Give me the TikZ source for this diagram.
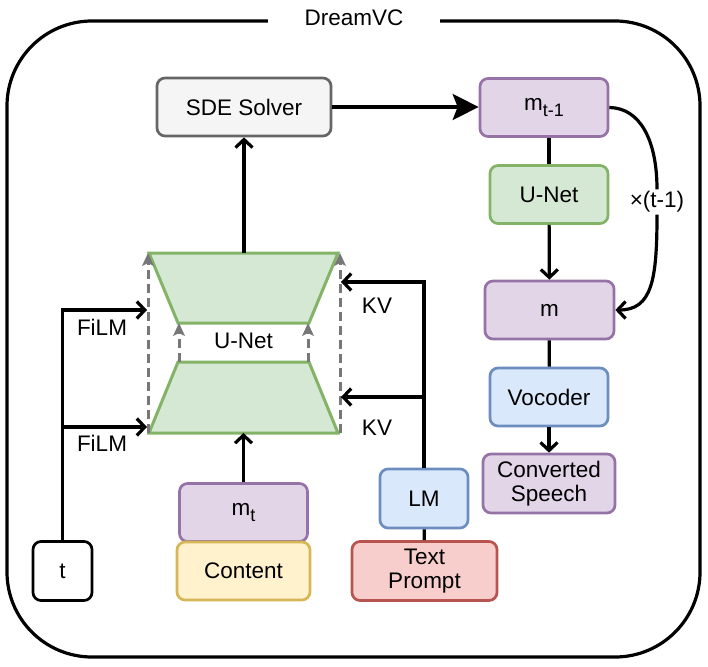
\documentclass[tikz,border=0pt]{standalone}
\usepackage{fontspec}
\setmainfont{Liberation Sans}
\usetikzlibrary{arrows.meta,positioning}

\definecolor{mfill}{HTML}{E1D5E7}\definecolor{mdraw}{HTML}{9673A6}
\definecolor{gfill}{HTML}{D5E8D4}\definecolor{gdraw}{HTML}{82B366}
\definecolor{bfill}{HTML}{DAE8FC}\definecolor{bdraw}{HTML}{6C8EBF}
\definecolor{yfill}{HTML}{FFF2CC}\definecolor{ydraw}{HTML}{D6B656}
\definecolor{rfill}{HTML}{F8CECC}\definecolor{rdraw}{HTML}{B85450}
\definecolor{sfill}{HTML}{F5F5F5}\definecolor{sdraw}{HTML}{666666}
\definecolor{skipgray}{HTML}{777777}

\newcommand{\subt}[1]{\raisebox{-6pt}{\fontsize{18}{18}\selectfont #1}}

\begin{document}
\begin{tikzpicture}[
		x=1pt, y=-1pt,
		font=\fontsize{22.5}{24}\selectfont,
		block/.style={draw, line width=2.7pt, rounded corners=8pt, minimum width=118pt, minimum height=58pt, align=center, inner sep=0pt},
		mblock/.style={block, fill=mfill, draw=mdraw},
		gblock/.style={block, fill=gfill, draw=gdraw},
		bblock/.style={block, fill=bfill, draw=bdraw},
		yblock/.style={block, fill=yfill, draw=ydraw},
		rblock/.style={block, fill=rfill, draw=rdraw},
		sblock/.style={block, fill=sfill, draw=sdraw},
		link/.style={line width=3.2pt},
		arr/.style={link, -{Straight Barb[length=8pt,width=17pt]}},
		skiparr/.style={draw=skipgray, line width=3pt, dash pattern=on 9pt off 5pt, -{Stealth[length=13pt,width=12pt,inset=3pt,fill=skipgray,line width=0pt]}},
		trap/.style={draw=gdraw, fill=gfill, line width=3pt, line join=miter},
		lbl/.style={inner sep=2pt},
	]
		\useasboundingbox (0,0) rectangle (708,666);

		% outer frame
		\draw[link, rounded corners=85pt] (7,21) rectangle (700,657);
		\node[fill=white, inner xsep=37pt, inner ysep=2pt] (title) at (354,18) {DreamVC};

		% left column
		\node[sblock, minimum width=174pt] (solver) at (244,107) {SDE Solver};
		\node[mblock, minimum width=128pt] (mt) at (243.5,512.5) {m\subt{t}};
		\node[yblock, minimum width=133pt] (content) at (243.5,571) {Content};
		\node[block, minimum width=59pt, minimum height=59pt] (tnode) at (62.5,571) {t};
		\node[bblock, minimum width=88pt, minimum height=59pt] (lm) at (424,498.5) {LM};
		\node[rblock, minimum width=145pt, minimum height=59pt] (prompt) at (424.5,571) {Text\\Prompt};

		% u-net halves
		\coordinate (encTL) at (149,253); \coordinate (encTR) at (338,253);
		\coordinate (encBR) at (309,323); \coordinate (encBL) at (178,323);
		\coordinate (decTL) at (178,362); \coordinate (decTR) at (309,362);
		\coordinate (decBR) at (338,433); \coordinate (decBL) at (149,433);
		\draw[trap] (encTL) -- (encTR) -- (encBR) -- (encBL) -- cycle;
		\draw[trap] (decTL) -- (decTR) -- (decBR) -- (decBL) -- cycle;
		\node[fill=white, inner sep=1pt] (unetlbl) at (243.5,341) {U-Net};

		\draw[skiparr] ([xshift=-1pt]decBL) -- ([xshift=-1pt]encTL);
		\draw[skiparr] ([xshift=2pt]decBR) -- ([xshift=2pt]encTR);
		\draw[skiparr] ([xshift=1pt]decTL) -- ([xshift=1pt]encBL);
		\draw[skiparr] ([xshift=-1pt]decTR) -- ([xshift=-1pt]encBR);

		\draw[arr] (solver |- encTL) -- (solver);
		\draw[arr] (mt) -- (mt |- decBL);

		% conditioning
		\coordinate (film1) at (147,310);
		\coordinate (film2) at (147,427);
		\draw[arr] (tnode.north) |- (film1);
		\draw[arr] (tnode.north |- film2) -- (film2);
		\node[lbl] (film1lbl) at (102,327) {FiLM};
		\node[lbl] (film2lbl) at (102,443) {FiLM};

		\coordinate (kv1) at (341,282);
		\coordinate (kv2) at (341,397);
		\draw[arr] (lm.north) |- (kv1);
		\draw[arr] (lm.north |- kv2) -- (kv2);
		\node[lbl] (kv1lbl) at (377,306) {KV};
		\node[lbl] (kv2lbl) at (377,428) {KV};
		\draw[link] (lm) -- (prompt);

		% right column
		\node[mblock, minimum width=128pt] (mprev) at (544,107.5) {m\subt{t-1}};
		\node[gblock] (unet) at (549,194.5) {U-Net};
		\node[mblock, minimum width=129pt] (mfinal) at (549.5,310) {m};
		\node[bblock] (vocoder) at (549,397) {Vocoder};
		\node[mblock, minimum width=132pt, minimum height=59pt] (speech) at (549,483.5) {Converted\\Speech};

		\draw[link, -{Stealth[length=26pt,width=26pt,inset=5pt]}] (solver.east) -- (solver.east -| mprev.west);
		\draw[link] (unet |- mprev.south) -- (unet);
		\draw[arr] (unet) -- (mfinal);
		\draw[link] (mfinal) -- (vocoder);
		\draw[arr] (vocoder) -- (speech);

		\node[lbl] (reps) at (657,202) {×(t-1)};
		\draw[link] (mprev.east) .. controls (640,108) and (657,140) .. (reps.north);
		\draw[arr] (reps.south) .. controls (657,280) and (652,310) .. (mfinal.east);
	\end{tikzpicture}
\end{document}
